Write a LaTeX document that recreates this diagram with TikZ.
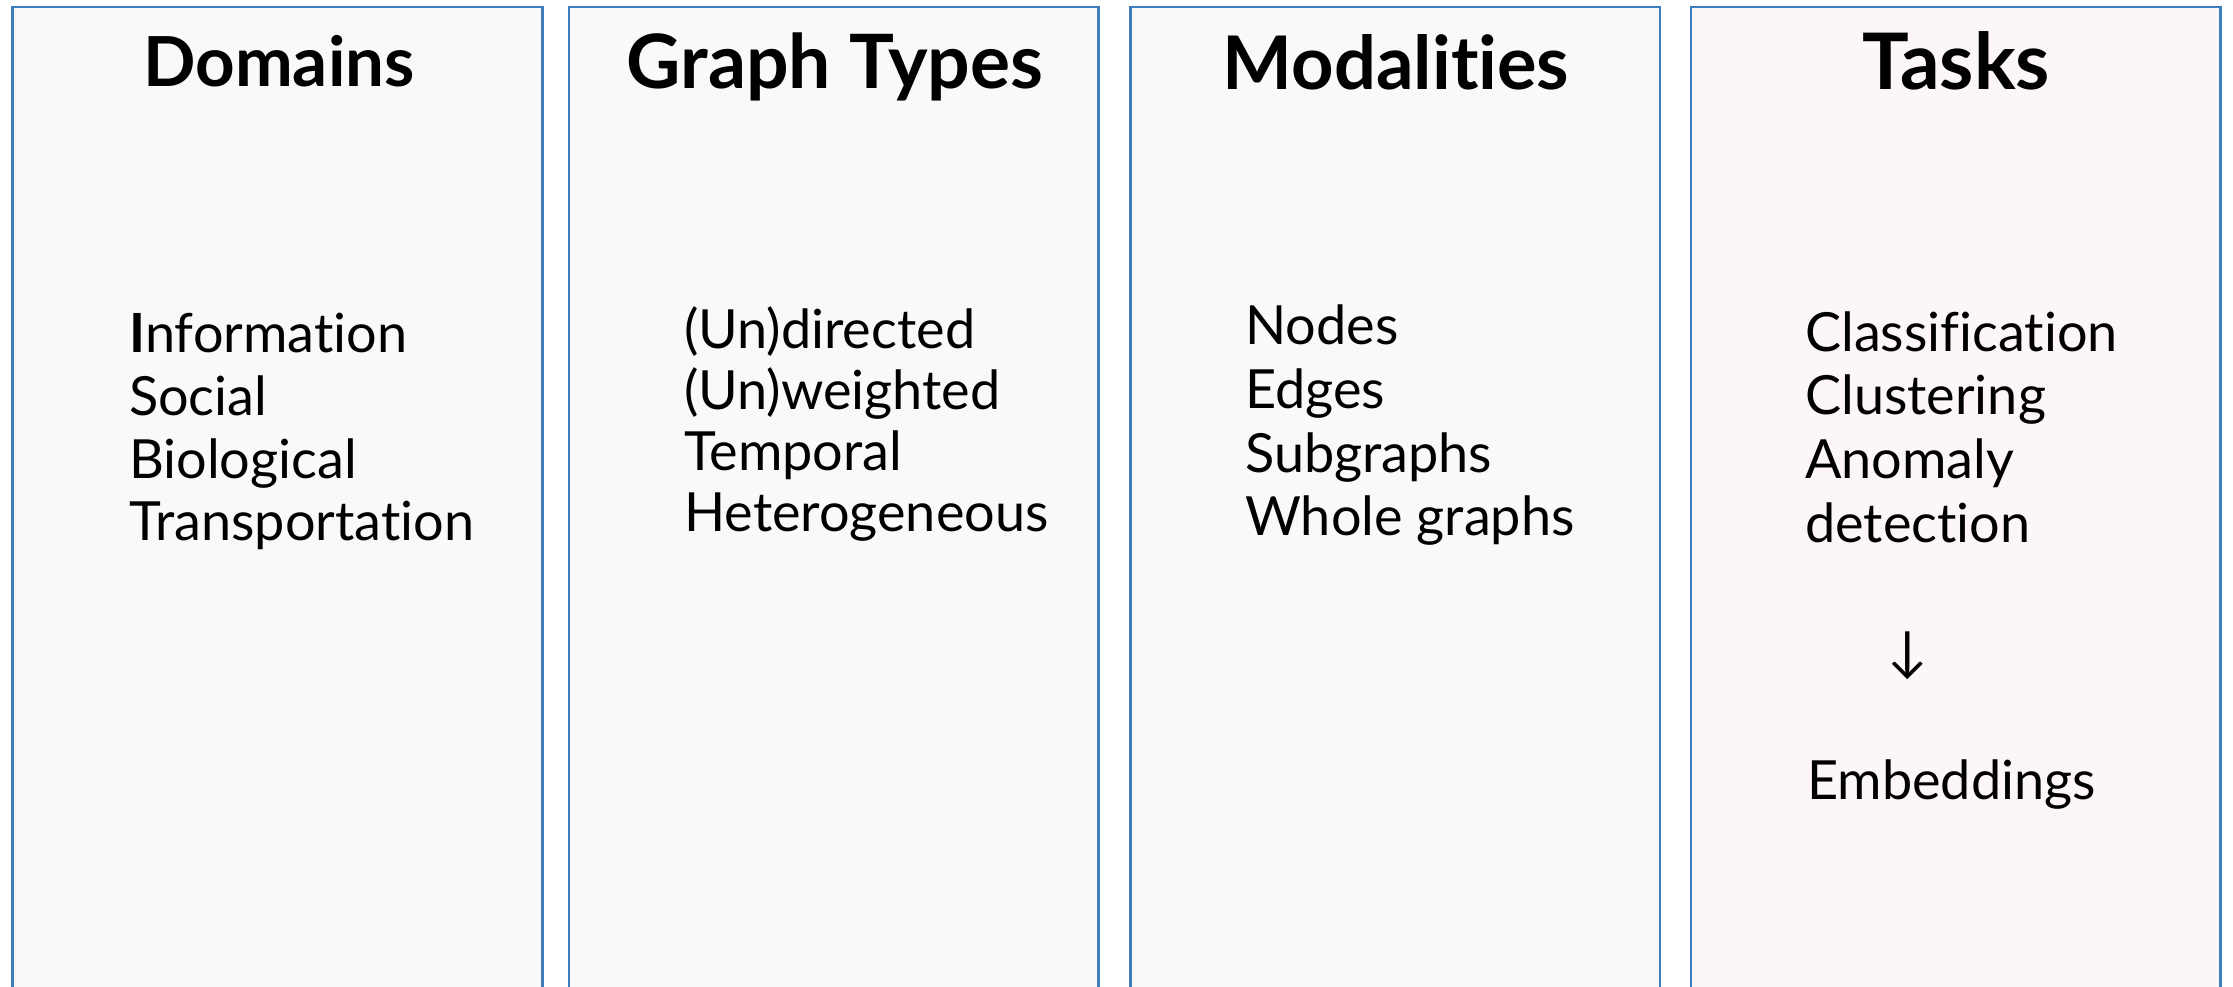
\documentclass[tikz,border=0pt]{standalone}
\usepackage{fontspec}
\setmainfont[Ligatures={NoCommon,NoRequired,NoContextual}]{Lato}
\definecolor{frameblue}{RGB}{62,125,190}
\definecolor{panelfill}{RGB}{248,249,251}
\definecolor{taskfill}{RGB}{252,246,246}
\tikzset{
  panel/.style={draw=frameblue, line width=2.6pt},
  headtext/.style={font=\fontsize{#1}{#1}\selectfont\bfseries, inner sep=0pt, anchor=base},
  itemtext/.style={font=\fontsize{54}{64}\selectfont, inner sep=0pt, anchor=base west},
}
\begin{document}
\begin{tikzpicture}[x=1pt, y=-1pt]
  \useasboundingbox (0,0) rectangle (2233,986);
  \begin{scope}
    \clip (0,0) rectangle (2233,986);
    % four columns, running off the bottom edge
    \path[panel, fill=panelfill] (12.5,7) rectangle (542.5,1010);
    \path[panel, fill=panelfill] (569,7) rectangle (1098.5,1010);
    \path[panel, fill=panelfill] (1130.5,7) rectangle (1660,1010);
    \path[panel, fill=taskfill] (1691,7) rectangle (2220.5,1010);
  \end{scope}

  % column headings
  \node[headtext=69] (hdom) at (279,86) {Domains};
  \node[headtext=75] (htype) at (835,88) {Graph Types};
  \node[headtext=74] (hmod) at (1396,89) {Modalities};
  \node[headtext=78] (htask) at (1956,89) {Tasks};

  % Domains
  \node[itemtext] (d1) at (129,352) {\textbf{I}nformation};
  \node[itemtext] (d2) at (129,415) {Social};
  \node[itemtext] (d3) at (129,478) {Biological};
  \node[itemtext] (d4) at (129,540) {Transportation};

  % Graph types
  \node[itemtext] (g1) at (684,348) {(Un)directed};
  \node[itemtext] (g2) at (684,409) {(Un)weighted};
  \node[itemtext] (g3) at (684,470) {Temporal};
  \node[itemtext] (g4) at (684,531) {Heterogeneous};

  % Modalities
  \node[itemtext] (m1) at (1245,344) {Nodes};
  \node[itemtext] (m2) at (1245,408) {Edges};
  \node[itemtext] (m3) at (1245,472) {Subgraphs};
  \node[itemtext] (m4) at (1245,535) {Whole graphs};

  % Tasks
  \node[itemtext] (t1) at (1805,351) {Classification};
  \node[itemtext] (t2) at (1805,414) {Clustering};
  \node[itemtext] (t3) at (1805,478) {Anomaly};
  \node[itemtext] (t4) at (1805,542) {detection};
  \node[font=\fontsize{54}{64}\selectfont, inner sep=0pt] (tarrow) at (1908,656) {↓};
  \node[itemtext] (t5) at (1807,799) {Embeddings};
\end{tikzpicture}
\end{document}
